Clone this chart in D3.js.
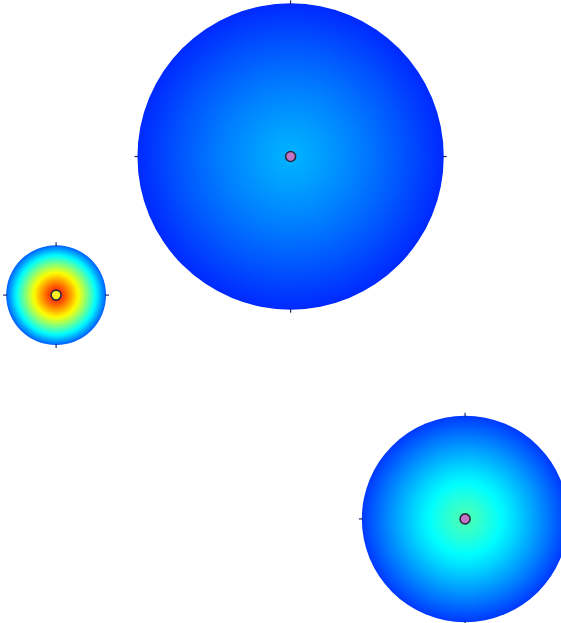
<!DOCTYPE html>
<html>
<head>
<meta charset="utf-8">
<script src="https://cdn.jsdelivr.net/npm/d3@7"></script>
<style>
  html, body { margin: 0; padding: 0; background: #ffffff; }
  svg { display: block; }
</style>
</head>
<body>
<svg id="chart" width="561" height="623"></svg>
<script>
// ---- data (map units: x 0..100, y 0..111) ----
const sourceNames  = ["A", "B", "C"];
const sourceX      = [10.0, 51.8, 82.9];
const sourceY      = [52.6, 27.9, 92.5];
const sourceRadius = [8.9, 27.3, 18.4];
const peakValue    = [0.87, 0.30, 0.45];
const edgeValue    = [0.215, 0.165, 0.18];
const markerKind   = ["hot", "cool", "cool"];

// jet colormap
const jetDomain = [0, 0.125, 0.375, 0.625, 0.875, 1];
const jetRange  = ["#00008f", "#0000ff", "#00ffff", "#ffff00", "#ff0000", "#800000"];

const W = 561, H = 623;
const x = d3.scaleLinear().domain([0, 100]).range([0, W]);
const y = d3.scaleLinear().domain([0, 111]).range([0, 111 * W / 100]);
const rScale = d3.scaleLinear().domain([0, 100]).range([0, W]);
const jet = d3.scaleLinear().domain(jetDomain).range(jetRange).clamp(true);
const falloff = d3.scalePow().exponent(1.2).domain([0, 1]).range([0, 1]);

const data = sourceNames.map((n, i) => ({
  name: n, x: sourceX[i], y: sourceY[i], r: sourceRadius[i],
  peak: peakValue[i], edge: edgeValue[i], kind: markerKind[i]
}));

const svg = d3.select("#chart");
const defs = svg.append("defs");

const tSteps = d3.range(0, 1.0001, 0.05);
data.forEach((d, i) => {
  const g = defs.append("radialGradient")
    .attr("id", "grad" + i)
    .attr("cx", "50%").attr("cy", "50%").attr("r", "50%");
  g.selectAll("stop").data(tSteps).join("stop")
    .attr("offset", t => (t * 100) + "%")
    .attr("stop-color", t => jet(d.peak - (d.peak - d.edge) * falloff(t)));
});

const groups = svg.selectAll("g.src").data(data).join("g")
  .attr("class", "src")
  .attr("transform", d => `translate(${x(d.x)},${y(d.y)})`);

groups.append("circle")
  .attr("r", d => rScale(d.r))
  .attr("fill", (d, i) => `url(#grad${i})`);

// cardinal tick marks
const dirs = [[0, -1], [0, 1], [-1, 0], [1, 0]];
groups.each(function (d) {
  const R = rScale(d.r);
  d3.select(this).selectAll("line.tick").data(dirs).join("line")
    .attr("class", "tick")
    .attr("x1", v => v[0] * (R - 1)).attr("y1", v => v[1] * (R - 1))
    .attr("x2", v => v[0] * (R + 3)).attr("y2", v => v[1] * (R + 3))
    .attr("stroke", "#1c2a6a").attr("stroke-width", 1.2);
});

groups.append("circle")
  .attr("r", 5)
  .attr("fill", d => d.kind === "hot" ? "#ffee22" : "#c374c4")
  .attr("stroke", "#2a2a3e")
  .attr("stroke-width", 1.6);
</script>
</body>
</html>
